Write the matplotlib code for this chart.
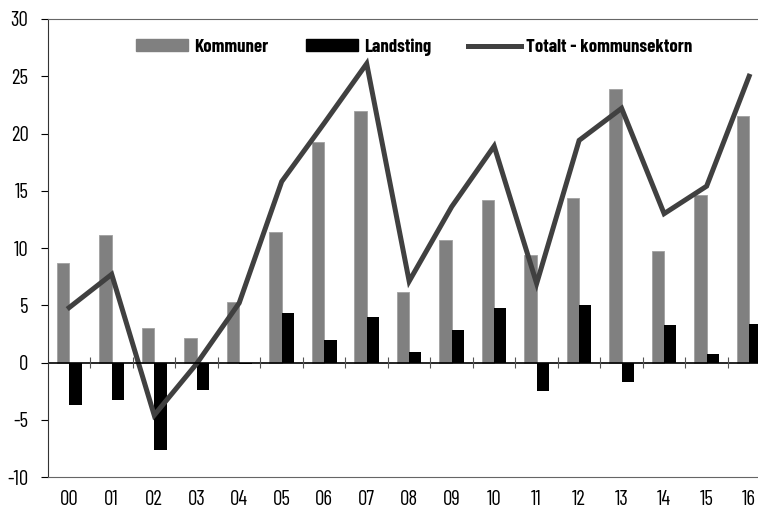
import numpy as np
import matplotlib.pyplot as plt
from matplotlib.lines import Line2D
from matplotlib.patches import Patch

plt.rcParams['font.family'] = ['Barlow Condensed', 'DejaVu Sans']
plt.rcParams['axes.unicode_minus'] = False

# Data
years = ['00', '01', '02', '03', '04', '05', '06', '07', '08',
         '09', '10', '11', '12', '13', '14', '15', '16']
kommuner = [8.7, 11.1, 3.0, 2.1, 5.3, 11.4, 19.3, 22.0, 6.2,
            10.7, 14.2, 9.4, 14.4, 23.9, 9.7, 14.6, 21.5]
landsting = [-3.7, -3.3, -7.6, -2.4, -0.15, 4.3, 2.0, 4.0, 0.95,
             2.8, 4.8, -2.45, 5.0, -1.7, 3.3, 0.7, 3.4]
totalt = [4.8, 7.7, -4.6, -0.1, 5.2, 15.8, 20.9, 26.1, 7.1,
          13.6, 18.9, 6.9, 19.4, 22.2, 13.0, 15.4, 25.0]

x = np.arange(len(years))
w = 0.29

fig = plt.figure(figsize=(7.58, 5.08), dpi=100)
ax = fig.add_axes([0.0633, 0.061, 0.953, 0.9016])

ax.bar(x - w / 2, kommuner, w, color='#808080', edgecolor='#a0a0a0', linewidth=0.6)
ax.bar(x + w / 2, landsting, w, color='black')
ax.plot(x, totalt, color='#404040', linewidth=3.6, solid_joinstyle='miter')

ax.set_xlim(-0.5, len(years) - 0.5)
ax.set_ylim(-10, 30)
ax.set_yticks(np.arange(-10, 31, 5))

# nollinje med gruppavdelare
ax.axhline(0, color='black', linewidth=1.2)
ax.vlines(np.arange(len(years)) + 0.5, -0.45, 0.45, color='#555555', linewidth=0.8)

ax.set_xticks(x)
ax.set_xticklabels(years)
ax.tick_params(axis='x', length=0, pad=9, labelsize=15)
ax.tick_params(axis='y', length=5, width=0.8, direction='out', labelsize=15, pad=9)

for s in ['top', 'bottom']:
    ax.spines[s].set_color('#666666')
ax.spines['left'].set_color('#333333')
ax.spines['right'].set_visible(False)

handles = [Patch(color='#808080'), Patch(color='black'),
           Line2D([0], [0], color='#404040', linewidth=3.6)]
ax.legend(handles, ['Kommuner', 'Landsting', 'Totalt - kommunsektorn'],
          loc='upper center', bbox_to_anchor=(0.507, 0.995), ncol=3, frameon=False,
          prop={'weight': 'bold', 'size': 13.5}, handlelength=2.8, handleheight=0.55,
          columnspacing=2.0, handletextpad=0.3)

fig.savefig('out.png', dpi=100)
